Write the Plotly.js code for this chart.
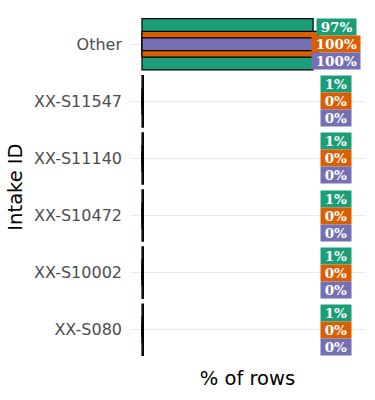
<!DOCTYPE html>
<html>
<head>
<meta charset="utf-8">
<script src="https://cdn.plot.ly/plotly-3.0.1.min.js"></script>
<style>html,body{margin:0;padding:0;background:#fff}#chart{width:375px;height:400px}</style>
</head>
<body>
<div id="chart"></div>
<script>
// Data (top-to-bottom order of categories)
const categories = ["Other", "XX-S11547", "XX-S11140", "XX-S10472", "XX-S10002", "XX-S080"];
const seriesNames = ["A", "B", "C"];
const greenValues = [97, 0.8, 0.8, 0.8, 0.8, 0.8];
const orangeValues = [100, 0.02, 0.02, 0.02, 0.02, 0.02];
const purpleValues = [100, 0.02, 0.02, 0.02, 0.02, 0.02];
const seriesColors = ["#1b9e77", "#d95f02", "#7570b3"];
const barWidths = [0.9, 0.45, 0.225];
const labelShifts = [17, 0, -17];
const LABEL_X = 110;

const allValues = [greenValues, orangeValues, purpleValues];

const traces = allValues.map((vals, i) => ({
  type: "bar",
  orientation: "h",
  name: seriesNames[i],
  y: categories,
  x: vals,
  width: barWidths[i],
  marker: {color: seriesColors[i], line: {color: "#000000", width: 1.2}},
  hoverinfo: "none",
  showlegend: false
}));

const annotations = [];
allValues.forEach((vals, i) => {
  vals.forEach((v, j) => {
    annotations.push({
      x: LABEL_X, y: categories[j], xref: "x", yref: "y",
      yshift: labelShifts[i],
      text: "\u2009" + Math.round(v) + "%\u2009",
      showarrow: false,
      bgcolor: seriesColors[i],
      borderpad: 1,
      height: 14,
      font: {family: "DejaVu Serif", size: 13.5, color: "#ffffff", weight: "bold"},
      xanchor: "center", yanchor: "middle"
    });
  });
});

const layout = {
  width: 375, height: 400,
  margin: {l: 130, r: 10, t: 10, b: 36},
  paper_bgcolor: "#ffffff", plot_bgcolor: "#ffffff",
  barmode: "overlay",
  font: {family: "DejaVu Sans"},
  xaxis: {
    range: [-6.8, 126.4],
    showticklabels: false, ticks: "",
    showgrid: false, zeroline: false, showline: false,
    title: {text: "% of rows", font: {size: 19.5, color: "#000000"}, standoff: 7}
  },
  yaxis: {
    type: "category",
    categoryorder: "array", categoryarray: categories,
    range: [5.6, -0.6],
    showgrid: true, gridcolor: "#ebebeb", gridwidth: 1,
    zeroline: false, showline: false, ticks: "",
    ticklabelstandoff: 7,
    tickfont: {size: 16, color: "#4d4d4d"},
    title: {text: "Intake ID", font: {size: 19.5, color: "#000000"}, standoff: 6}
  },
  annotations: annotations
};

Plotly.newPlot("chart", traces, layout, {displayModeBar: false, staticPlot: true});
</script>
</body>
</html>
